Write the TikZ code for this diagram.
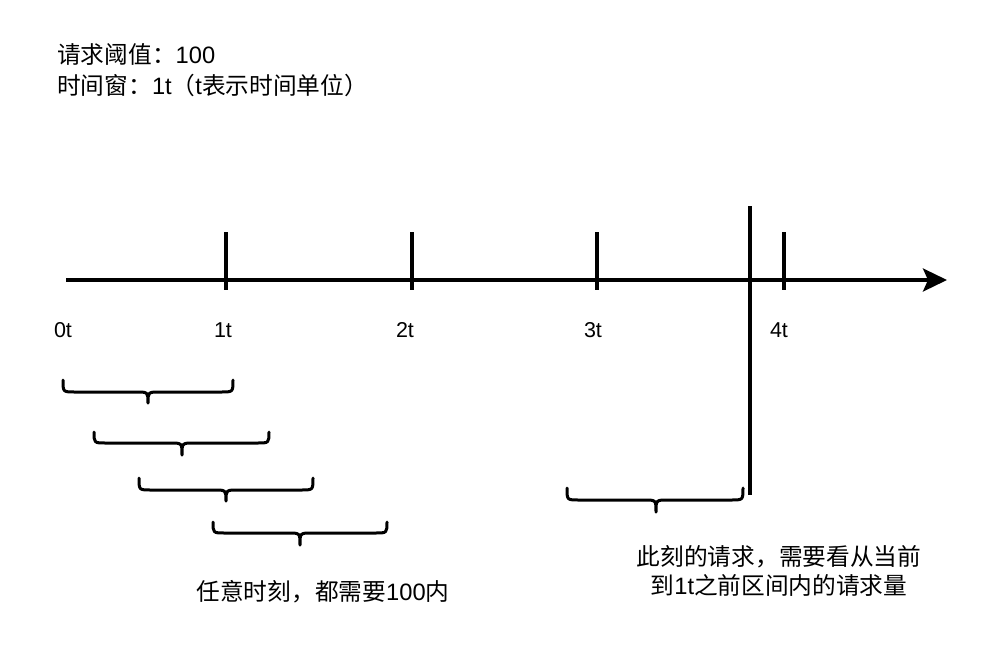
\documentclass[tikz,border=0pt]{standalone}
\usepackage{fontspec}
\setmainfont{Liberation Sans}
\newfontfamily\cjk{Noto Sans CJK SC}
\usetikzlibrary{arrows.meta, positioning}

\begin{document}
\begin{tikzpicture}[x=1pt,y=-1pt,
    bar/.style={black,line width=3.5pt},
    curly/.style={black,line width=3pt,line cap=round,line join=round},
    txt/.style={inner sep=0pt,font=\fontsize{23.7}{29}\selectfont},
    tick label/.style={inner sep=0pt,font=\fontsize{21.5}{25}\selectfont}]
    \useasboundingbox (0,0) rectangle (1002,662);

    % header
    \node[txt,anchor=west] (thr) at (57,55) {{\cjk 请求阈值：}100};
    \node[txt,anchor=west] (win) at (57,85) {{\cjk 时间窗：}1t{\cjk （}t{\cjk 表示时间单位）}};

    % time axis
    \coordinate (t0) at (66,280);
    \coordinate (tend) at (947,280);
    \draw[bar,-{Stealth[length=24pt,width=23pt,inset=5pt]}] (t0) -- (tend);
    \draw[bar] (226,232) -- (226,290); %1t
    \draw[bar] (412,232) -- (412,290); %2t
    \draw[bar] (597,232) -- (597,290); %3t
    \draw[bar] (784,232) -- (784,290); %4t
    \draw[bar] (750,206) -- (750,495); %now

    \node[tick label] (l0) at (63,330) {0t};
    \node[tick label] (l1) at (223,330) {1t};
    \node[tick label] (l2) at (405,330) {2t};
    \node[tick label] (l3) at (593,330) {3t};
    \node[tick label] (l4) at (779,330) {4t};

    % sliding windows
    \draw[curly] (63,380) .. controls (63,392) .. (75,392) -- (136,392) .. controls (148,392) .. (148,403)
        .. controls (148,392) .. (160,392) -- (221,392) .. controls (233,392) .. (233,380); %w1
    \draw[curly] (94,432) .. controls (94,443) .. (106,443) -- (170,443) .. controls (182,443) .. (182,455)
        .. controls (182,443) .. (194,443) -- (257,443) .. controls (269,443) .. (269,432); %w2
    \draw[curly] (139,478) .. controls (139,490) .. (151,490) -- (214,490) .. controls (226,490) .. (226,501)
        .. controls (226,490) .. (238,490) -- (301,490) .. controls (313,490) .. (313,478); %w3
    \draw[curly] (213,522) .. controls (213,533) .. (225,533) -- (288,533) .. controls (300,533) .. (300,545)
        .. controls (300,533) .. (312,533) -- (375,533) .. controls (387,533) .. (387,522); %w4
    \draw[curly] (567,488) .. controls (567,500) .. (579,500) -- (644,500) .. controls (656,500) .. (656,512)
        .. controls (656,500) .. (668,500) -- (731,500) .. controls (743,500) .. (743,488); %now window

    % notes
    \node[txt] (anyt) at (323,592) {{\cjk 任意时刻，都需要}100{\cjk 内}};
    \node[txt,align=center] (nowt) at (779,571) {{\cjk 此刻的请求，需要看从当前}\\{\cjk 到}1t{\cjk 之前区间内的请求量}};
\end{tikzpicture}
\end{document}
